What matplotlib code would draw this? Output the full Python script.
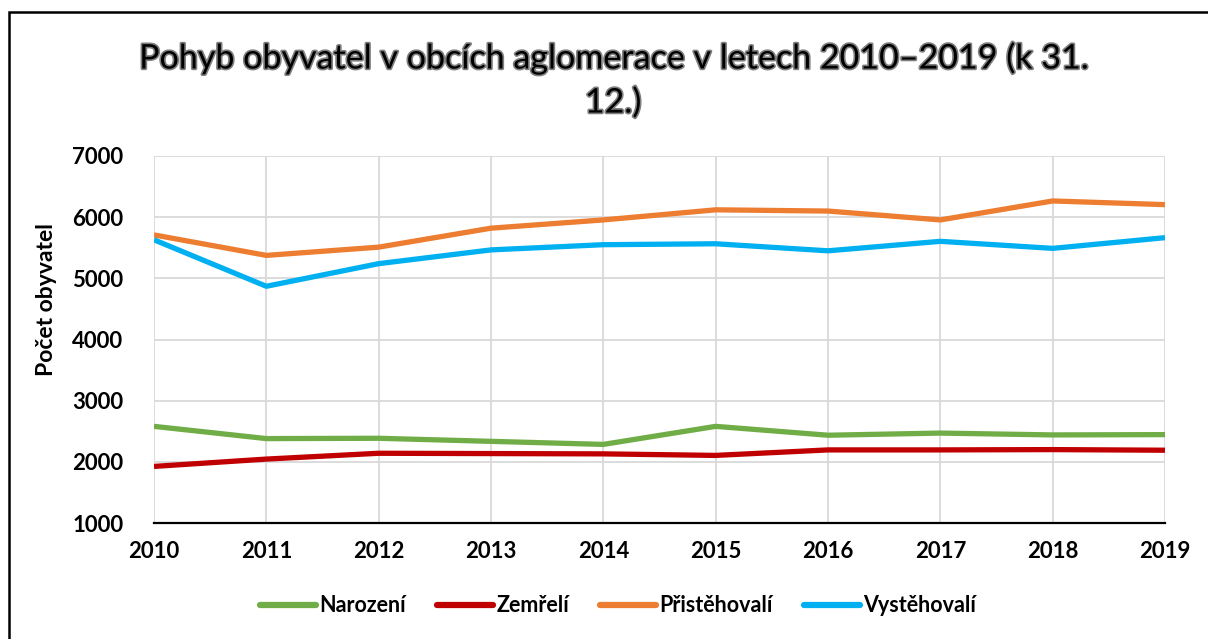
import matplotlib
matplotlib.use("Agg")
import matplotlib.pyplot as plt
import matplotlib.patheffects as pe
from matplotlib.patches import Rectangle

years = [2010, 2011, 2012, 2013, 2014, 2015, 2016, 2017, 2018, 2019]
narozeni = [2580, 2380, 2385, 2335, 2285, 2580, 2435, 2470, 2440, 2445]
zemreli = [1925, 2045, 2140, 2135, 2130, 2105, 2195, 2195, 2200, 2190]
pristehovali = [5710, 5375, 5510, 5820, 5955, 6120, 6100, 5955, 6265, 6205]
vystehovali = [5630, 4870, 5240, 5465, 5550, 5565, 5450, 5605, 5490, 5665]

series_names = ["Narození", "Zemřelí", "Přistěhovalí", "Vystěhovalí"]
colors = ["#70AD47", "#C00000", "#ED7D31", "#00B0F0"]
yticks = [1000, 2000, 3000, 4000, 5000, 6000, 7000]
title = "Pohyb obyvatel v obcích aglomerace v letech 2010–2019 (k 31.\n12.)"
ylabel = "Počet obyvatel"

plt.rcParams['font.family'] = ['Lato', 'DejaVu Sans']

W, H = 1208, 639
fig = plt.figure(figsize=(W / 100, H / 100), dpi=100)
ax = fig.add_axes([154 / W, 1 - 523 / H, (1165 - 154) / W, (523 - 156) / H])

for vals, name, c in zip([narozeni, zemreli, pristehovali, vystehovali], series_names, colors):
    ax.plot(years, vals, color=c, lw=3.8, label=name, solid_capstyle='butt', zorder=3)

ax.set_xlim(years[0], years[-1])
ax.set_ylim(yticks[0], yticks[-1])
ax.set_xticks(years)
ax.set_yticks(yticks)
ax.grid(True, color="#d9d9d9", lw=1.3, zorder=0)
ax.set_axisbelow(True)
for s in ["top", "right", "left"]:
    ax.spines[s].set_visible(False)
ax.spines["bottom"].set_color("black")
ax.spines["bottom"].set_linewidth(1.6)
ax.spines["bottom"].set_zorder(4)
ax.tick_params(axis='both', length=0, labelsize=16)
ax.tick_params(axis='x', pad=13)
ax.tick_params(axis='y', pad=22)
for lab in ax.get_xticklabels() + ax.get_yticklabels():
    lab.set_fontweight('bold')

fig.text(47 / W, 1 - 300 / H, ylabel, rotation=90, ha='center', va='center',
         fontsize=16.5, fontweight='bold')

fig.text(613 / W, 1 - 80 / H, title, ha='center', va='center', fontsize=24.5,
         linespacing=1.45,
         path_effects=[pe.Stroke(linewidth=2.4, foreground='#7f7f7f'), pe.Normal()])

leg = fig.legend(loc='center', bbox_to_anchor=(618 / W, 1 - 606 / H), ncol=4,
                 frameon=False, handlelength=2.6, handletextpad=0.15,
                 columnspacing=1.45, prop={'weight': 'bold', 'size': 15.5})
for line in leg.get_lines():
    line.set_linewidth(4.5)
    line.set_solid_capstyle('round')

fig.patches.append(Rectangle((8.5 / W, -0.1), 1.2, (1 - 11.5 / H) + 0.1,
                             transform=fig.transFigure, fill=False,
                             edgecolor='black', lw=1.8))

fig.savefig("out.png", dpi=100)
